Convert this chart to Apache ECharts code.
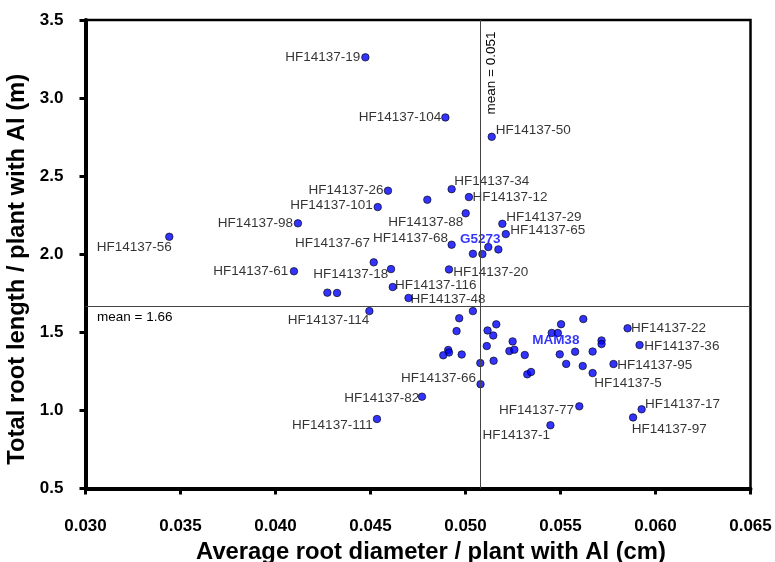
<!DOCTYPE html>
<html>
<head>
<meta charset="utf-8">
<script src="https://cdn.jsdelivr.net/npm/echarts@6/dist/echarts.min.js"></script>
<style>
html,body{margin:0;padding:0;background:#fff;}
#chart{width:775px;height:562px;}
</style>
</head>
<body>
<div id="chart"></div>
<script>
// ---- data ----
const diameter = [
  0.04473, 0.04894, 0.05138, 0.04927, 0.04799, 0.05018, 0.04592, 0.04538, 0.05001, 0.04118,
  0.05194, 0.05212, 0.03441, 0.04927, 0.05120, 0.05173, 0.05039, 0.05089, 0.04517, 0.04097,
  0.04608, 0.04913, 0.04617, 0.04700, 0.04273, 0.04324, 0.04494, 0.04534, 0.04771, 0.05039,
  0.04967, 0.05162, 0.04953, 0.05116, 0.05146, 0.05112, 0.05248, 0.05231, 0.05257, 0.05312,
  0.04909, 0.04913, 0.04883, 0.04980, 0.05078, 0.05148, 0.05079, 0.05325, 0.05345, 0.05503,
  0.05620, 0.05454, 0.05486, 0.05716, 0.05716, 0.05496, 0.05577, 0.05669, 0.05530, 0.05617,
  0.05669, 0.05853, 0.05916, 0.05779, 0.05599, 0.05447, 0.05927, 0.05882
];
const rootLength = [
  3.261, 2.876, 2.752, 2.417, 2.349, 2.366, 2.407, 2.302, 2.262, 2.198,
  2.195, 2.129, 2.112, 2.061, 2.046, 2.031, 2.003, 2.001, 1.948, 1.891,
  1.905, 1.903, 1.790, 1.720, 1.754, 1.752, 1.636, 0.945, 1.088, 1.636,
  1.590, 1.551, 1.508, 1.512, 1.480, 1.412, 1.442, 1.380, 1.389, 1.355,
  1.387, 1.371, 1.353, 1.358, 1.303, 1.318, 1.168, 1.231, 1.246, 1.552,
  1.585, 1.496, 1.496, 1.448, 1.425, 1.359, 1.376, 1.377, 1.298, 1.284,
  1.239, 1.526, 1.419, 1.297, 1.026, 0.905, 1.007, 0.955
];
const pointNames = [
  'HF14137-19', 'HF14137-104', 'HF14137-50', 'HF14137-34', '', 'HF14137-12', 'HF14137-26', 'HF14137-101', 'HF14137-88', 'HF14137-98',
  'HF14137-29', 'HF14137-65', 'HF14137-56', 'HF14137-68', 'G5273', '', '', '', 'HF14137-67', 'HF14137-61',
  'HF14137-18', 'HF14137-20', 'HF14137-116', 'HF14137-48', '', '', 'HF14137-114', 'HF14137-111', 'HF14137-82', '',
  '', '', '', '', '', '', '', '', '', '',
  '', '', '', '', '', '', 'HF14137-66', '', '', '',
  '', 'MAM38', '', '', '', '', '', '', '', '',
  'HF14137-5', 'HF14137-22', 'HF14137-36', 'HF14137-95', 'HF14137-77', 'HF14137-1', 'HF14137-17', 'HF14137-97'
];
const checkVarieties = ['G5273', 'MAM38'];
const meanDiameter = 0.05076;
const meanLength = 1.665;
const meanDiameterLabel = 'mean = 0.051';
const meanLengthLabel = 'mean = 1.66';
const xTickLabels = ['0.030', '0.035', '0.040', '0.045', '0.050', '0.055', '0.060', '0.065'];
const yTickLabels = ['0.5', '1.0', '1.5', '2.0', '2.5', '3.0', '3.5'];
const xTitle = 'Average root diameter / plant with Al (cm)';
const yTitle = 'Total root length / plant with Al (m)';

// ---- label placement (style only): [dx, dy, align] ----
const labelPlacement = {
  'HF14137-19': [-5, 0, 'right'], 'HF14137-104': [-4, 0, 'right'], 'HF14137-50': [4, -7, 'left'],
  'HF14137-34': [2.5, -8, 'left'], 'HF14137-12': [3.5, 0, 'left'], 'HF14137-26': [-4.5, 0, 'right'],
  'HF14137-101': [-5, -2, 'right'], 'HF14137-88': [-2.5, 8.5, 'right'], 'HF14137-98': [-5, 0, 'right'],
  'HF14137-29': [4, -6.5, 'left'], 'HF14137-65': [4.5, -3.5, 'left'], 'HF14137-56': [2.5, 11, 'right'],
  'HF14137-68': [-3.5, -6.5, 'right'], 'G5273': [-8, -8, 'center'], 'HF14137-67': [-3.7, -19, 'right'],
  'HF14137-61': [-5.7, 0, 'right'], 'HF14137-18': [-2.7, 5.3, 'right'], 'HF14137-20': [4.3, 3, 'left'],
  'HF14137-116': [2.3, -1.3, 'left'], 'HF14137-48': [2, 1.3, 'left'], 'HF14137-114': [0, 9, 'right'],
  'HF14137-111': [-4.3, 6, 'right'], 'HF14137-82': [-2.7, 1.6, 'right'], 'HF14137-66': [-4.5, -6, 'right'],
  'HF14137-22': [3.5, 0, 'left'], 'HF14137-36': [4.8, 1, 'left'], 'HF14137-95': [3.8, 1.7, 'left'],
  'HF14137-5': [1.6, 9.7, 'left'], 'HF14137-77': [-5.3, 4.4, 'right'], 'HF14137-1': [-0.5, 10.5, 'right'],
  'HF14137-17': [3.3, -5.3, 'left'], 'HF14137-97': [-1.3, 11.8, 'left'], 'MAM38': [4, 7, 'center']
};

const FONT = "'Liberation Sans', Arial, sans-serif";

const seriesData = diameter.map((x, i) => {
  const name = pointNames[i];
  const item = { value: [x, rootLength[i]], name: name };
  if (name) {
    const p = labelPlacement[name] || [5, 0, 'left'];
    const isCheck = checkVarieties.indexOf(name) >= 0;
    item.label = {
      show: true,
      position: 'inside',
      offset: [p[0], p[1]],
      align: p[2],
      verticalAlign: 'middle',
      formatter: name,
      color: isCheck ? '#0000ff' : '#000',
      fontWeight: isCheck ? 'bold' : 'normal',
      fontSize: 13.5,
      fontFamily: FONT
    };
  }
  return item;
});

const chart = echarts.init(document.getElementById('chart'), null, { renderer: 'canvas' });
chart.setOption({
  animation: false,
  backgroundColor: '#fff',
  grid: {
    left: 85.5, right: 24.5, top: 20, bottom: 73.5,
    outerBoundsMode: 'none',
    containLabel: false,
    show: true, borderColor: '#000', borderWidth: 2.5, backgroundColor: 'transparent'
  },
  xAxis: {
    type: 'value', min: 0.030, max: 0.065, interval: 0.005,
    name: xTitle, nameLocation: 'middle', nameGap: 52,
    nameTextStyle: { fontSize: 23.8, fontWeight: 'bold', color: '#000', fontFamily: FONT, padding: [0, 0, 0, 26] },
    axisLine: { show: true, onZero: false, lineStyle: { color: '#000', width: 4 } },
    axisTick: { show: true, inside: false, length: 6, lineStyle: { color: '#000', width: 3 } },
    axisLabel: {
      margin: 29, fontSize: 17, fontWeight: 'bold', color: '#000', fontFamily: FONT,
      formatter: (v, i) => xTickLabels[i] !== undefined ? xTickLabels[i] : v
    },
    splitLine: { show: false }
  },
  yAxis: {
    type: 'value', min: 0.5, max: 3.5, interval: 0.5,
    name: yTitle, nameLocation: 'middle', nameGap: 43, nameRotate: 90,
    nameTextStyle: { fontSize: 23.8, fontWeight: 'bold', color: '#000', fontFamily: FONT, padding: [0, 30, 0, 0] },
    axisLine: { show: true, onZero: false, lineStyle: { color: '#000', width: 4 } },
    axisTick: { show: true, inside: false, length: 6, lineStyle: { color: '#000', width: 3 } },
    axisLabel: {
      margin: 22, fontSize: 17, fontWeight: 'bold', color: '#000', fontFamily: FONT,
      formatter: (v, i) => yTickLabels[i] !== undefined ? yTickLabels[i] : v
    },
    splitLine: { show: false }
  },
  series: [{
    type: 'scatter',
    symbol: 'circle',
    symbolSize: 7.5,
    itemStyle: { color: '#0000ff', borderColor: '#000', borderWidth: 0.8 },
    label: { show: false },
    data: seriesData,
    markLine: {
      silent: true,
      precision: 6,
      symbol: ['none', 'none'],
      animation: false,
      lineStyle: { color: '#444', width: 1, type: 'solid' },
      label: { fontSize: 13.5, color: '#000', fontFamily: FONT },
      data: [
        { xAxis: meanDiameter, label: { formatter: meanDiameterLabel, position: 'insideEndBottom', distance: 4, padding: [0, 7.5, 0, 0] } },
        { yAxis: meanLength, label: { formatter: meanLengthLabel, position: 'insideStartBottom', distance: 4, padding: [0, 0, 0, 7.5] } }
      ]
    }
  }]
});
</script>
</body>
</html>
